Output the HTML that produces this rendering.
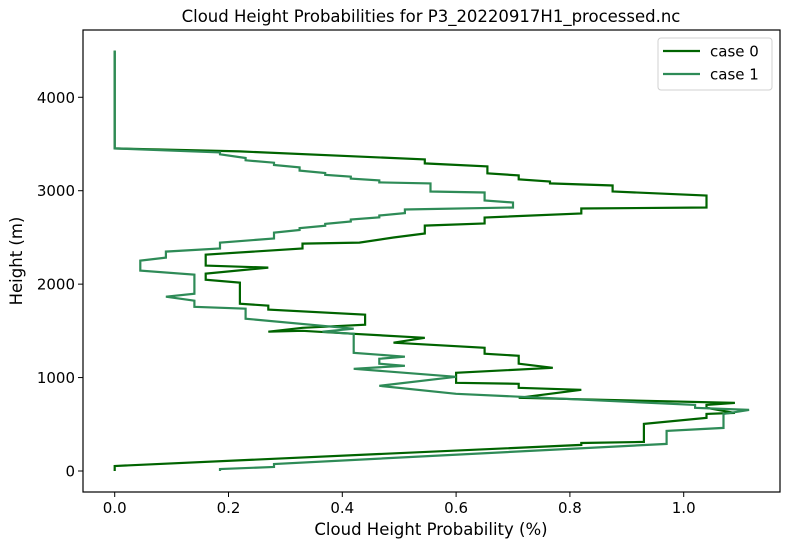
<!DOCTYPE html>
<html><head><meta charset="utf-8"><style>
body{margin:0;background:#fff;}
svg{display:block;font-family:"DejaVu Sans","Liberation Sans",sans-serif;}
</style></head><body>
<svg id="chart" width="790" height="547" viewBox="0 0 790 547"></svg>
<script>
const yTicks=[0,1000,2000,3000,4000];
const xTicks=[0.0,0.2,0.4,0.6,0.8,1.0];
const xTickLabels=["0.0","0.2","0.4","0.6","0.8","1.0"];
const seriesNames=["case 0","case 1"];
const case0X=[0,0,0.82,0.82,0.93,0.93,1.04,1.04,1.09,1.04,1.04,1.09,0.71,0.82,0.71,0.71,0.60,0.60,0.77,0.71,0.71,0.65,0.65,0.49,0.545,0.42,0.33,0.27,0.33,0.44,0.44,0.27,0.27,0.22,0.22,0.16,0.16,0.27,0.16,0.16,0.33,0.33,0.43,0.49,0.545,0.545,0.65,0.65,0.82,0.82,1.04,1.04,0.875,0.875,0.765,0.765,0.71,0.71,0.655,0.655,0.545,0.545,0.22,0,0];
const case0H=[0,54,279,300,311,504,568,611,622,676,708,729,783,869,890,933,944,1051,1105,1148,1233,1255,1319,1373,1426,1469,1501,1491,1533,1566,1673,1727,1769,1791,2016,2048,2113,2177,2198,2316,2381,2434,2445,2499,2542,2627,2649,2713,2756,2810,2820,2949,2992,3056,3078,3099,3121,3164,3185,3260,3292,3335,3421,3453,4500];
const case1X=[0.185,0.185,0.28,0.28,0.97,0.97,1.07,1.07,1.115,1.02,1.02,0.60,0.465,0.60,0.42,0.51,0.465,0.465,0.51,0.42,0.42,0.365,0.42,0.23,0.23,0.14,0.14,0.09,0.14,0.14,0.045,0.045,0.09,0.09,0.185,0.185,0.28,0.28,0.325,0.325,0.37,0.37,0.415,0.415,0.465,0.465,0.51,0.51,0.70,0.70,0.65,0.65,0.555,0.555,0.465,0.465,0.415,0.415,0.37,0.37,0.325,0.325,0.28,0.28,0.23,0.23,0.185,0.185,0,0];
const case1H=[0,21,43,75,290,429,461,611,654,676,708,826,912,1008,1094,1126,1148,1201,1223,1265,1469,1491,1523,1630,1737,1758,1823,1866,1898,2102,2145,2252,2284,2348,2381,2445,2488,2552,2580,2600,2625,2645,2670,2692,2715,2735,2760,2799,2820,2874,2895,2981,2992,3078,3089,3110,3130,3150,3170,3190,3215,3250,3275,3300,3325,3350,3390,3410,3453,4500];

const NS="http://www.w3.org/2000/svg";
const svg=document.getElementById('chart');
const L=83,R=780,T=30,B=492;
const sx=v=>114.7+v*569;
const sy=v=>471-v*0.09343;
function mk(tag,attrs,parent){const e=document.createElementNS(NS,tag);for(const k in attrs)e.setAttribute(k,attrs[k]);(parent||svg).appendChild(e);return e;}

const title=mk('text',{x:431,y:22,'text-anchor':'middle','font-size':16.5,fill:'#000'});
title.textContent='Cloud Height Probabilities for P3_20220917H1_processed.nc';



const colors=['#006400','#2e8b57'];
const allX=[case0X,case1X], allH=[case0H,case1H];
const clip=mk('clipPath',{id:'pc'});mk('rect',{x:L,y:T,width:R-L,height:B-T},clip);
for(let s=0;s<2;s++){
  const pts=allX[s].map((v,i)=>sx(v).toFixed(1)+','+sy(allH[s][i]).toFixed(1)).join(' ');
  const pl=mk('polyline',{points:pts,fill:'none',stroke:colors[s],'stroke-width':2.2,'stroke-linejoin':'miter','clip-path':'url(#pc)'});
  
  
}

const frame=mk('rect',{x:L,y:T,width:R-L,height:B-T,fill:'none',stroke:'#000','stroke-width':1.2});



xTicks.forEach((v,i)=>{
  const x=sx(v);
  mk('line',{x1:x,x2:x,y1:B,y2:B+5,stroke:'#000','stroke-width':1});
  const t=mk('text',{x:x,y:B+21,'text-anchor':'middle','font-size':15,fill:'#000'});
  t.textContent=xTickLabels[i];
  
  
});
yTicks.forEach(v=>{
  const y=sy(v);
  mk('line',{x1:L-5,x2:L,y1:y,y2:y,stroke:'#000','stroke-width':1});
  const t=mk('text',{x:L-8,y:y+5.5,'text-anchor':'end','font-size':15,fill:'#000'});
  t.textContent=String(v);
  
  
});
const xl=mk('text',{x:431,y:535,'text-anchor':'middle','font-size':16.5,fill:'#000'});
xl.textContent='Cloud Height Probability (%)';


const yl=mk('text',{x:0,y:0,'text-anchor':'middle','font-size':16.5,fill:'#000',transform:'translate(22,261) rotate(-90)'});
yl.textContent='Height (m)';



const lg=mk('g',{});


mk('rect',{x:658,y:38,width:114,height:52,rx:3,fill:'#fff',stroke:'#d0d0d0','stroke-width':1},lg);
seriesNames.forEach((n,i)=>{
  const y=51+i*23;
  mk('line',{x1:663,x2:700,y1:y,y2:y,stroke:colors[i],'stroke-width':2.2},lg);
  const t=mk('text',{x:710,y:y+5.5,'font-size':15,fill:'#000'},lg);
  t.textContent=n;
  
  
});
</script>
</body></html>
